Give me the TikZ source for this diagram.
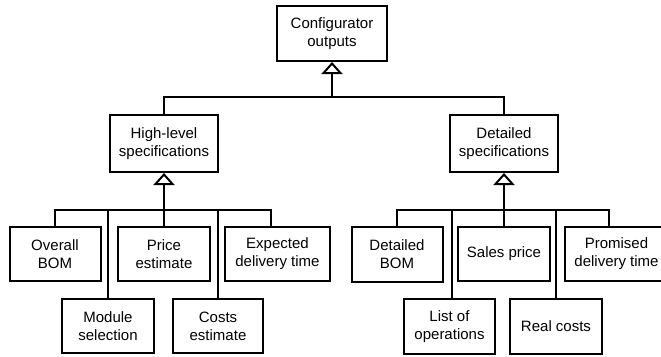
\documentclass[tikz,border=0pt]{standalone}
\usepackage{fontspec}
\setmainfont{Liberation Sans}
\usetikzlibrary{arrows.meta}
\begin{document}
\begin{tikzpicture}[x=1pt,y=-1pt,
  box/.style={draw,line width=2pt,rectangle,inner sep=0pt,align=center,
    font=\fontsize{15}{18}\selectfont,text=black},
  link/.style={line width=2pt},
  gen/.style={line width=2pt,-{Triangle[open,length=12pt,width=21pt]}}]
\useasboundingbox (0,0) rectangle (661,356);
% level 0
\node[box,minimum width=110pt,minimum height=55pt] (top) at (332,33.5) {Configurator\\outputs};
% level 1
\node[box,minimum width=108pt,minimum height=57pt] (hl) at (164,143.5) {High-level\\specifications};
\node[box,minimum width=108pt,minimum height=57pt] (ds) at (504,143.5) {Detailed\\specifications};
% level 2 left
\node[box,minimum width=91pt,minimum height=54pt] (ob) at (55,254) {Overall\\BOM};
\node[box,minimum width=92pt,minimum height=54pt] (ms) at (108,326) {Module\\selection};
\node[box,minimum width=92pt,minimum height=54pt] (pe) at (164,254) {Price\\estimate};
\node[box,minimum width=90pt,minimum height=54pt] (ce) at (218,326) {Costs\\estimate};
\node[box,minimum width=105pt,minimum height=54pt] (ed) at (277.5,254) {Expected\\delivery time};
% level 2 right
\node[box,minimum width=91pt,minimum height=55pt] (db) at (397,254.5) {Detailed\\BOM};
\node[box,minimum width=91pt,minimum height=55pt] (lo) at (449.5,326.5) {List of\\operations};
\node[box,minimum width=92pt,minimum height=54pt] (sp) at (504,254) {Sales price};
\node[box,minimum width=92pt,minimum height=55pt] (rc) at (556,326.5) {Real costs};
\node[box,minimum width=103pt,minimum height=54pt] (pd) at (616.5,254) {Promised\\delivery time};
% junctions
\coordinate (j0) at (332,97);
\coordinate (j1) at (164,210);
\coordinate (j2) at (504,210);
% top level connectors
\draw[link] (hl.north) |- (j0);
\draw[link] (ds.north) |- (j0);
\draw[gen] (j0) -- (top.south);
% left group
\draw[link] (ob.north) |- (j1);
\draw[link] (ms.north) |- (j1);
\draw[link] (ce.north) |- (j1);
\draw[link] ([xshift=-6.5pt]ed.north) |- (j1);
\draw[link] (pe.north) -- (j1);
\draw[gen] (j1) -- (hl.south);
% right group
\draw[link] (db.north) |- (j2);
\draw[link] ([xshift=2.5pt]lo.north) |- (j2);
\draw[link] (rc.north) |- (j2);
\draw[link] ([xshift=-7.5pt]pd.north) |- (j2);
\draw[link] (sp.north) -- (j2);
\draw[gen] (j2) -- (ds.south);
\end{tikzpicture}
\end{document}
